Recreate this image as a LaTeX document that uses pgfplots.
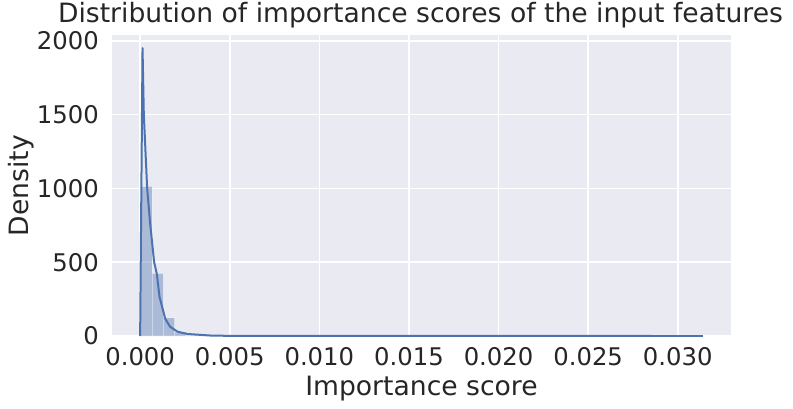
\documentclass[border=0pt]{standalone}
\usepackage{pgfplots}
\pgfplotsset{compat=1.18}
\usepackage{fontspec}
\setmainfont{DejaVu Sans}
\definecolor{bg}{HTML}{EAEAF2}
\definecolor{sbblue}{HTML}{4C72B0}
\definecolor{txt}{HTML}{262626}
\begin{document}
\begin{tikzpicture}
\begin{axis}[
  at={(0,0)}, anchor=south west,
  scale only axis, width=619bp, height=301bp,
  xmin=-0.00157, xmax=0.03297,
  ymin=0, ymax=2039,
  axis line style={draw=none},
  axis background/.style={fill=bg},
  grid=major,
  major grid style={white, line width=1.6bp},
  tick style={draw=none},
  xtick={0,0.005,0.010,0.015,0.020,0.025,0.030},
  ytick={0,500,1000,1500,2000},
  scaled ticks=false,
  xticklabel style={/pgf/number format/fixed, /pgf/number format/fixed zerofill, /pgf/number format/precision=3, anchor=base, inner sep=0pt, yshift=-29bp},
  yticklabel style={/pgf/number format/1000 sep={}, anchor=east, inner sep=0pt, xshift=-13bp},
  /pgf/number format/assume math mode=true,
  ticklabel style={font=\fontsize{24.4}{28}\selectfont, text=txt},
  xlabel={Importance score},
  ylabel={Density},
  xlabel style={at={(axis description cs:0.5,0)}, anchor=base, inner sep=0pt, yshift=-59bp},
  ylabel style={at={(axis description cs:0,0.5)}, anchor=center, inner sep=0pt, yshift=91bp},
  label style={font=\fontsize{26.7}{30}\selectfont, text=txt},
  title={Distribution of importance scores of the input features},
  title style={at={(axis description cs:0.5,1)}, anchor=base, inner sep=0pt, yshift=6.7bp, xshift=-1bp, font=\fontsize{26.7}{30}\selectfont, text=txt},
]
\addplot[ybar interval, fill=sbblue, fill opacity=0.4, draw=white, draw opacity=0.4, line width=1bp] coordinates {
(0.00004,1013) (0.000667,424) (0.001294,122) (0.001921,27) (0.002548,5) (0.003175,2) (0.003802,1) (0.004429,1)
};
\addplot[ybar interval, fill=sbblue, fill opacity=0.4, draw=white, draw opacity=0.4, line width=1bp] coordinates {
(0.030773,1.5) (0.0314,1.5)
};
\addplot[sbblue, line width=2bp, line join=round] coordinates {
(0,0) (0.000134,1950) (0.000206,1499) (0.000391,1002) (0.000558,763) (0.000692,605) (0.000781,501) (0.000932,420) (0.00108,266) (0.0014,117) (0.00167,63) (0.00209,29) (0.00265,13.5) (0.00395,3) (0.005,1) (0.007,0.3) (0.01,0.05) (0.0314,0)
};
\end{axis}
\pgfresetboundingbox
\path[use as bounding box] (-112bp,-73bp) rectangle (681bp,336bp);
\end{tikzpicture}
\end{document}
